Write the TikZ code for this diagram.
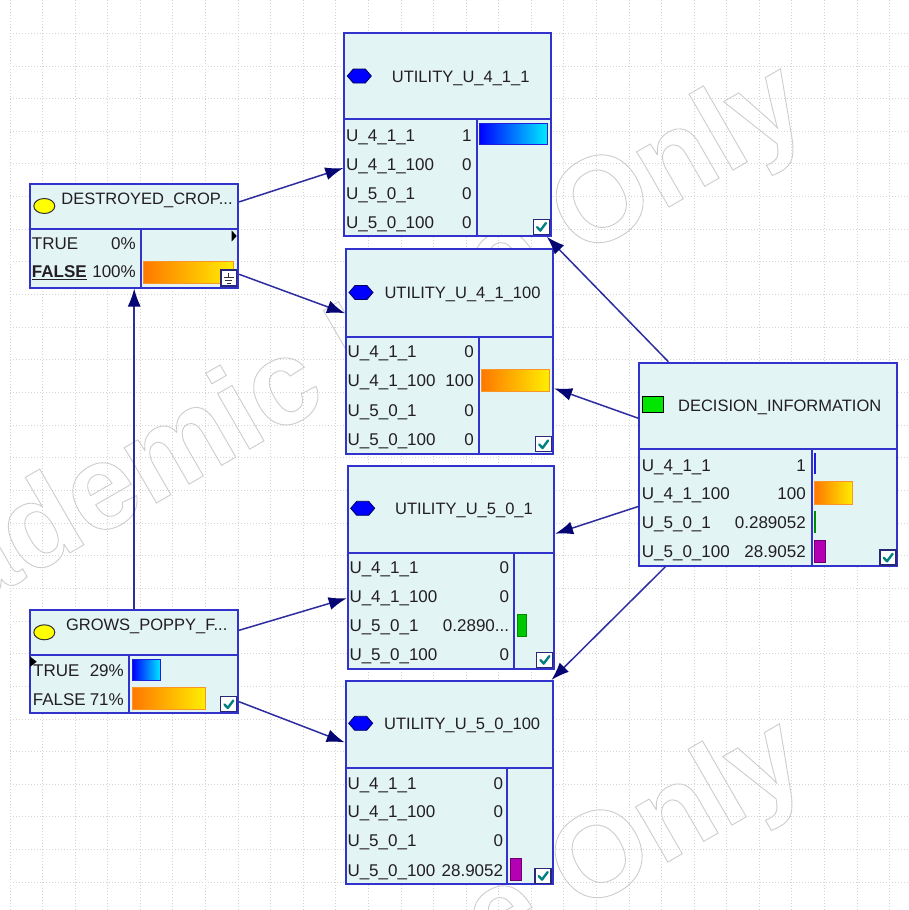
\documentclass[tikz,border=0pt]{standalone}
\usepackage{fontspec}
\setmainfont{Liberation Sans}
\usetikzlibrary{arrows.meta}

\definecolor{boxfill}{RGB}{226,244,244}
\definecolor{boxblue}{RGB}{50,50,205}
\definecolor{edgeblue}{RGB}{45,45,160}
\definecolor{tipnavy}{RGB}{5,5,115}
\definecolor{inktext}{RGB}{35,30,35}
\definecolor{gridgray}{RGB}{212,212,212}
\definecolor{wmgray}{RGB}{205,205,205}
\definecolor{chkteal}{RGB}{0,128,128}
\definecolor{chkframe}{RGB}{40,40,120}
\definecolor{bluebarL}{RGB}{0,0,255}
\definecolor{bluebarR}{RGB}{0,235,255}
\definecolor{bluebarE}{RGB}{30,30,220}
\definecolor{orangeL}{RGB}{255,120,0}
\definecolor{orangeR}{RGB}{255,238,0}
\definecolor{orangeE}{RGB}{250,150,40}
\definecolor{greenbar}{RGB}{0,200,0}
\definecolor{greenE}{RGB}{0,140,0}
\definecolor{purplebar}{RGB}{180,0,180}
\definecolor{purpleE}{RGB}{110,0,110}
\definecolor{hexdark}{RGB}{0,0,90}
\definecolor{iconyellow}{RGB}{255,255,0}
\definecolor{icongreen}{RGB}{0,230,0}

% stroked (hollow) letters for the background stamp
\newcommand\outlined[1]{\special{pdf:literal direct 1 Tr 0.9 w}#1\special{pdf:literal direct 0 Tr}}

\tikzset{
  gridline/.style={gridgray, line width=0.9pt, dash pattern=on 1.4pt off 1.6pt},
  watermark/.style={font=\fontsize{121}{121}\selectfont\bfseries, text=wmgray, inner sep=0,
    rotate=30, anchor=base west},
  netbox/.style={draw=boxblue, fill=boxfill, line width=1.8pt, inner sep=0, anchor=north west},
  divline/.style={draw=boxblue, line width=1.8pt},
  titletext/.style={font=\fontsize{16.5}{18}\selectfont, text=inktext, inner sep=0, anchor=base},
  rowtext/.style={font=\fontsize{17}{19}\selectfont, text=inktext, inner sep=0},
  edge/.style={draw=edgeblue, line width=1.5pt, -{Latex[length=18pt,width=13pt,color=tipnavy]}},
  hexstyle/.style={fill=blue, draw=hexdark, line width=0.8pt},
  ellstyle/.style={fill=iconyellow, draw=black!80, line width=1pt},
  sqstyle/.style={fill=icongreen, draw=black, line width=1.4pt},
  barblue/.style={draw=bluebarE, line width=1pt, left color=bluebarL, right color=bluebarR},
  barorange/.style={draw=orangeE, line width=1pt, left color=orangeL, right color=orangeR},
  bargreen/.style={draw=greenE, line width=0.8pt, fill=greenbar},
  barpurple/.style={draw=purpleE, line width=0.8pt, fill=purplebar},
  chkframestyle/.style={draw=chkframe, fill=white, line width=1.2pt},
  chkmark/.style={draw=chkteal, line width=2.4pt, line cap=round, line join=round},
}

% one network box: name, left, top, right, bottom
\newcommand\netnode[5]{\node[netbox, minimum width={#4-#2}, minimum height={#5-#3}] (#1) at (#2,#3) {};}
% one table row: name, label x, value right x, row centre y, label, value
\newcommand\tabrow[6]{%
  \node[rowtext, anchor=base west] (#1l) at (#2,{#4+6}) {#5};
  \node[rowtext, anchor=base east] (#1v) at (#3,{#4+6}) {#6};}
\newcommand\hexicon[2]{\filldraw[hexstyle] ({#1-12},#2) -- ({#1-6},{#2-7}) -- ({#1+6},{#2-7})
  -- ({#1+12},#2) -- ({#1+6},{#2+7}) -- ({#1-6},{#2+7}) -- cycle;}
\newcommand\tickbox[2]{\draw[chkframestyle] (#1,#2) rectangle ({#1+16},{#2+15});
  \draw[chkmark] ({#1+3.8},{#2+7.8}) -- ({#1+7},{#2+11.3}) -- ({#1+12.6},{#2+3.8});}

\begin{document}
\begin{tikzpicture}[x=1pt,y=-1pt]
\useasboundingbox (0,0) rectangle (908,910);
\fill[white] (0,0) rectangle (908,910);

% background grid
\foreach \i in {0,...,27} \draw[gridline] ({10+32.58*\i},0) -- ({10+32.58*\i},910);
\foreach \j in {0,...,26} \draw[gridline] (10,{33.3+32.65*\j}) -- (908,{33.3+32.65*\j});

% background stamp
\node[watermark] (stampA) at (-165.5,688.8) {\outlined{Academic Use Only}};
\node[watermark] (stampB) at (-166.5,1343.8) {\outlined{Academic Use Only}};

% ---- UTILITY_U_4_1_1
\netnode{u411}{343.3}{31.7}{550}{235}
\draw[divline] (343.3,119.3) -- (550,119.3);
\draw[divline] (476.7,119.3) -- (476.7,235);
\hexicon{359.3}{76}
\node[titletext] (u411t) at (460.7,82) {UTILITY\_U\_4\_1\_1};
\tabrow{u411a}{346}{471.7}{135}{U\_4\_1\_1}{1}
\tabrow{u411b}{346}{471.7}{164}{U\_4\_1\_100}{0}
\tabrow{u411c}{346}{471.7}{193}{U\_5\_0\_1}{0}
\tabrow{u411d}{346}{471.7}{222}{U\_5\_0\_100}{0}
\draw[barblue] (479.3,123.3) rectangle (547.3,144.3);
\tickbox{533.3}{219.3}

% ---- UTILITY_U_4_1_100
\netnode{u41100}{345}{248.3}{552.3}{452.7}
\draw[divline] (345,336.7) -- (552.3,336.7);
\draw[divline] (479,336.7) -- (479,452.7);
\hexicon{361}{292.5}
\node[titletext] (u41100t) at (462.5,298.5) {UTILITY\_U\_4\_1\_100};
\tabrow{u41100a}{347.5}{474}{351.7}{U\_4\_1\_1}{0}
\tabrow{u41100b}{347.5}{474}{380.7}{U\_4\_1\_100}{100}
\tabrow{u41100c}{347.5}{474}{410}{U\_5\_0\_1}{0}
\tabrow{u41100d}{347.5}{474}{439.3}{U\_5\_0\_100}{0}
\draw[barorange] (481.5,369.5) rectangle (549,391);
\tickbox{535.5}{436.7}

% ---- UTILITY_U_5_0_1
\netnode{u501}{346.7}{465}{553.3}{668.3}
\draw[divline] (346.7,552.7) -- (553.3,552.7);
\draw[divline] (514,552.7) -- (514,668.3);
\hexicon{362.7}{508.3}
\node[titletext] (u501t) at (464,514.3) {UTILITY\_U\_5\_0\_1};
\tabrow{u501a}{349.3}{509.3}{567.3}{U\_4\_1\_1}{0}
\tabrow{u501b}{349.3}{509.3}{596}{U\_4\_1\_100}{0}
\tabrow{u501c}{349.3}{509.3}{625}{U\_5\_0\_1}{0.2890...}
\tabrow{u501d}{349.3}{509.3}{654}{U\_5\_0\_100}{0}
\draw[bargreen] (517.3,614) rectangle (526,636);
\tickbox{536.7}{652.3}

% ---- UTILITY_U_5_0_100
\netnode{u50100}{344.7}{680}{551.7}{883.3}
\draw[divline] (344.7,768.3) -- (551.7,768.3);
\draw[divline] (507.3,768.3) -- (507.3,883.3);
\hexicon{360.7}{723.3}
\node[titletext] (u50100t) at (462.2,729.3) {UTILITY\_U\_5\_0\_100};
\tabrow{u50100a}{347.3}{503.3}{783.3}{U\_4\_1\_1}{0}
\tabrow{u50100b}{347.3}{503.3}{811.7}{U\_4\_1\_100}{0}
\tabrow{u50100c}{347.3}{503.3}{840.7}{U\_5\_0\_1}{0}
\tabrow{u50100d}{347.3}{503.3}{870}{U\_5\_0\_100}{28.9052}
\draw[barpurple] (510.7,858.3) rectangle (521.7,880.7);
\tickbox{535}{868.3}

% ---- DECISION_INFORMATION
\netnode{dec}{638.3}{361.7}{896}{565}
\draw[divline] (638.3,449.3) -- (896,449.3);
\draw[divline] (811.7,449.3) -- (811.7,565);
\draw[sqstyle] (642.7,396.7) rectangle (663.3,412.7);
\node[titletext] (dect) at (779.7,411) {DECISION\_INFORMATION};
\tabrow{deca}{641.7}{806}{465}{U\_4\_1\_1}{1}
\tabrow{decb}{641.7}{806}{493.3}{U\_4\_1\_100}{100}
\tabrow{decc}{641.7}{806}{522.3}{U\_5\_0\_1}{0.289052}
\tabrow{decd}{641.7}{806}{551.7}{U\_5\_0\_100}{28.9052}
\fill[bluebarE] (813.6,453.3) rectangle (815.6,474);
\draw[barorange] (814.5,481.7) rectangle (852.7,504);
\fill[greenE] (813.6,511) rectangle (815.6,533.3);
\draw[barpurple] (814.5,540) rectangle (825,562.7);
\tickbox{880}{550}

% ---- DESTROYED_CROP...
\netnode{destr}{29.3}{183.3}{237.3}{286.7}
\draw[divline] (29.3,229.3) -- (237.3,229.3);
\draw[divline] (140.7,229.3) -- (140.7,286.7);
\filldraw[ellstyle] (44.3,206) ellipse [x radius=10.5, y radius=7.5];
\node[titletext] (destrt) at (147,204.3) {DESTROYED\_CROP...};
\tabrow{destra}{31.7}{136}{243.3}{TRUE}{0\%}
\tabrow{destrb}{31.7}{136}{271.7}{\underline{\textbf{FALSE}}}{100\%}
\draw[barorange] (143.5,261) rectangle (233,283.3);
\fill[black] (231.7,230.5) -- (236.7,236) -- (231.7,241.5) -- cycle;
\draw[chkframestyle] (221,270) rectangle (236.7,286);
\draw[black!80, line width=1pt] (228.8,272.5) -- (228.8,277.2)
  (223.8,277.2) -- (233.8,277.2) (225.3,280.2) -- (232.3,280.2) (226.8,283.2) -- (230.8,283.2);

% ---- GROWS_POPPY_F...
\netnode{grows}{29.3}{609.3}{237.3}{711.7}
\draw[divline] (29.3,655) -- (237.3,655);
\draw[divline] (129.3,655) -- (129.3,711.7);
\filldraw[ellstyle] (44.3,632.3) ellipse [x radius=10.5, y radius=7.5];
\node[titletext] (growst) at (146.7,630) {GROWS\_POPPY\_F...};
\tabrow{growsa}{33}{124}{670}{TRUE}{29\%}
\tabrow{growsb}{32.7}{124}{699}{FALSE}{71\%}
\draw[barblue] (132.5,659) rectangle (160.7,680);
\draw[barorange] (132.5,687.7) rectangle (205,709.3);
\fill[black] (30,656.5) -- (36.7,661.7) -- (30,666.9) -- cycle;
\tickbox{220.7}{696.7}

% ---- links
\draw[edge] (destr) -- (u411);
\draw[edge] (destr) -- (u41100);
\draw[edge] (grows) -- (destr);
\draw[edge] (grows) -- (u501);
\draw[edge] (grows) -- (u50100);
\draw[edge] (dec) -- (u411);
\draw[edge] (dec) -- (u41100);
\draw[edge] (dec) -- (u501);
\draw[edge] (dec) -- (u50100);
\end{tikzpicture}
\end{document}
